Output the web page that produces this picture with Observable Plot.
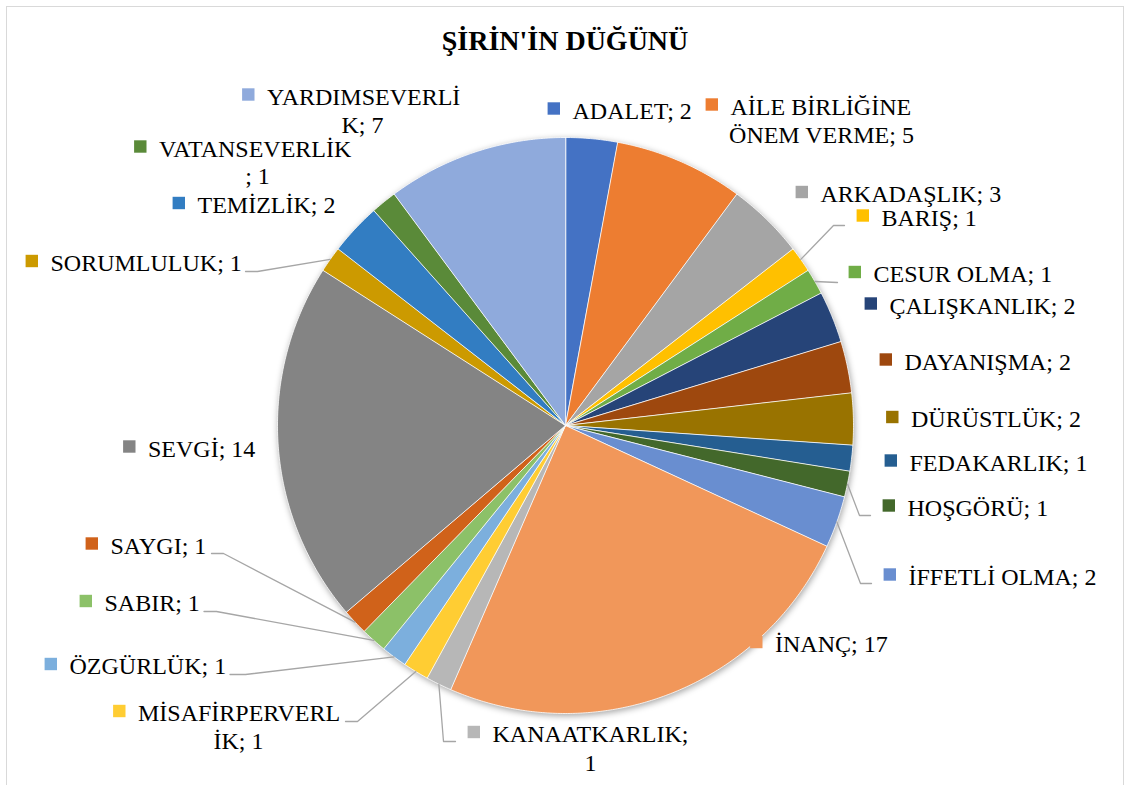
<!DOCTYPE html>
<html><head><meta charset="utf-8">
<script src="https://cdn.jsdelivr.net/npm/d3@7"></script>
<script src="https://cdn.jsdelivr.net/npm/@observablehq/plot@0.6"></script>
<style>
html,body{margin:0;padding:0;background:#fff;overflow:hidden;}
#wrap{position:relative;width:1130px;height:785px;}
#frame{position:absolute;left:6px;top:6px;width:1118px;height:820px;border:1px solid #d9d9d9;box-sizing:border-box;}
#title{position:relative;height:70px;box-sizing:border-box;padding-top:27px;text-align:center;font:bold 28px/28px "Liberation Serif","Times New Roman",serif;color:#000;}
#chart{position:relative;}
#chart svg{display:block;}
</style></head><body>
<div id="wrap"><div id="frame"></div><div id="title">ŞİRİN'İN DÜĞÜNÜ</div><div id="chart"></div></div>
<script>
// ---- data ----
const categories = ["ADALET","AİLE BİRLİĞİNE ÖNEM VERME","ARKADAŞLIK","BARIŞ","CESUR OLMA","ÇALIŞKANLIK","DAYANIŞMA","DÜRÜSTLÜK","FEDAKARLIK","HOŞGÖRÜ","İFFETLİ OLMA","İNANÇ","KANAATKARLIK","MİSAFİRPERVERLİK","ÖZGÜRLÜK","SABIR","SAYGI","SEVGİ","SORUMLULUK","TEMİZLİK","VATANSEVERLİK","YARDIMSEVERLİK"];
const values = [2,5,3,1,1,2,2,2,1,1,2,17,1,1,1,1,1,14,1,2,1,7];
const colors = ["#4472C4","#ED7D31","#A5A5A5","#FFC000","#70AD47","#264478","#9E480E","#997300","#255E91","#43682B","#698ED0","#F1975A","#B7B7B7","#FFCD33","#7CAFDD","#8CC168","#D0621A","#848484","#CC9A00","#327DC2","#5A8A39","#8FAADC"];
// label text lines as Excel wrapped them
const labelLines = [
  ["ADALET; 2"],["AİLE BİRLİĞİNE","ÖNEM VERME; 5"],["ARKADAŞLIK; 3"],["BARIŞ; 1"],["CESUR OLMA; 1"],
  ["ÇALIŞKANLIK; 2"],["DAYANIŞMA; 2"],["DÜRÜSTLÜK; 2"],["FEDAKARLIK; 1"],["HOŞGÖRÜ; 1"],
  ["İFFETLİ OLMA; 2"],["İNANÇ; 17"],["KANAATKARLIK;","1"],["MİSAFİRPERVERL","İK; 1"],["ÖZGÜRLÜK; 1"],
  ["SABIR; 1"],["SAYGI; 1"],["SEVGİ; 14"],["SORUMLULUK; 1"],["TEMİZLİK; 2"],["VATANSEVERLİK","; 1"],["YARDIMSEVERLİ","K; 7"]
];

// ---- layout (page pixels) ----
const W = 1130, TOP = 70, H = 785 - TOP;
const CX = 565, CY = 425, R = 288;
// [marker left, first baseline, second-line center, second baseline]
const labelPos = [
  [547,118],[705,114,821,142],[795,201.5],[856,225],[848,281.5],
  [864,313],[879,369],[885.5,426.5],[884,470],[882,515],
  [883,584],[749.5,651.5],[467,741.5,590,770],[112.5,720.5,238,748.5],[44,673.5],
  [79,610.5],[85,553],[122.5,456],[25,270.5],[172,212.5],[133.5,156,257,183.5],[241.5,104,362,132]
];
// leader line points from label towards the slice (rim point appended from data)
const leaderPos = {
  3: [[844,225],[833,225]],
  4: [[837,282]],
  9: [[870,515],[859,515]],
  10: [[871,583],[860,583]],
  12: [[455,741],[443,741]],
  13: [[345,721],[357,721]],
  14: [[229.5,674],[245,674]],
  15: [[203.5,611],[216,611]],
  16: [[211,553],[223,553]],
  18: [[245,271],[257,271]]
};

// ---- derived geometry ----
const arcs = d3.pie().sort(null).value(d => d)(values);
const slicePts = [];
arcs.forEach((a, i) => {
  const n = Math.max(2, Math.ceil((a.endAngle - a.startAngle) / (Math.PI / 360)));
  slicePts.push({key: i, x: CX, y: CY, fill: colors[i]});
  for (let k = 0; k <= n; k++) {
    const t = a.startAngle + (a.endAngle - a.startAngle) * k / n;
    slicePts.push({key: i, x: CX + R * Math.sin(t), y: CY - R * Math.cos(t), fill: colors[i]});
  }
});
const leaderPts = [];
Object.entries(leaderPos).forEach(([i, pts]) => {
  const a = arcs[+i], m = (a.startAngle + a.endAngle) / 2;
  pts.forEach(p => leaderPts.push({key: +i, x: p[0], y: p[1]}));
  leaderPts.push({key: +i, x: CX + R * Math.sin(m), y: CY - R * Math.cos(m)});
});
const markers = categories.map((c, i) => ({name: c, x: labelPos[i][0] + 6.3, y: labelPos[i][1] - 10, fill: colors[i]}));
const firstLines = categories.map((c, i) => ({text: labelLines[i][0], x: labelPos[i][0] + 25, y: labelPos[i][1]}));
const secondLines = categories.map((c, i) => labelLines[i].length > 1 ? {text: labelLines[i][1], x: labelPos[i][2], y: labelPos[i][3]} : null).filter(Boolean);

const font = {fontFamily: '"Liberation Serif","Times New Roman",serif', fontSize: 24, fill: "#000", lineAnchor: "bottom"};

const svg = Plot.plot({
  width: W, height: H, margin: 0,
  x: {domain: [0, W], range: [0, W], axis: null},
  y: {domain: [TOP, TOP + H], range: [0, H], axis: null},
  color: {type: "identity"},
  style: {background: "transparent", overflow: "visible"},
  marks: [
    Plot.line(slicePts, {x: "x", y: "y", z: "key", fill: "fill", stroke: "white", strokeWidth: 0.8, curve: "linear-closed"}),
    Plot.line(leaderPts, {x: "x", y: "y", z: "key", stroke: "#a6a6a6", strokeWidth: 1.3}),
    Plot.dot(markers, {x: "x", y: "y", fill: "fill", symbol: "square", r: 7, stroke: null}),
    Plot.text(firstLines, {x: "x", y: "y", text: "text", textAnchor: "start", ...font}),
    Plot.text(secondLines, {x: "x", y: "y", text: "text", textAnchor: "middle", ...font})
  ]
});
const pieGroup = svg.querySelector('g[aria-label="line"]');
if (pieGroup) pieGroup.style.filter = "drop-shadow(1px 2px 3px rgba(0,0,0,0.35))";
document.getElementById("chart").appendChild(svg);
</script>
</body></html>
